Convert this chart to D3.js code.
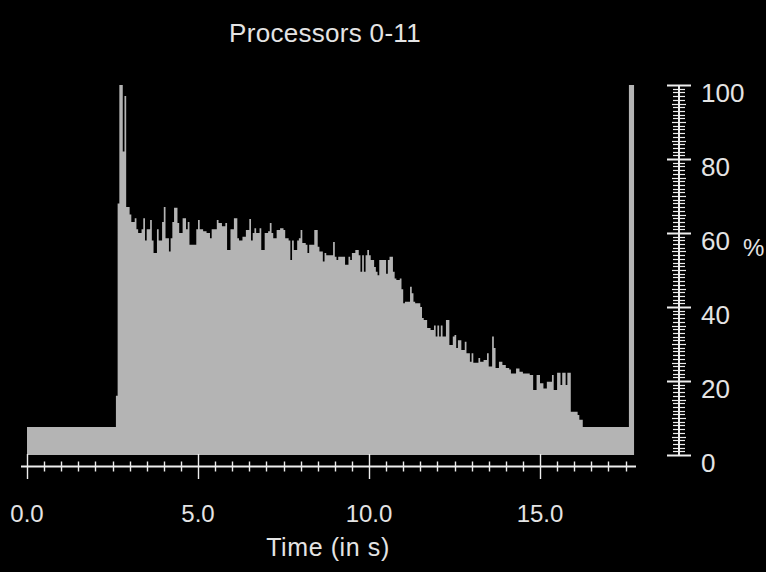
<!DOCTYPE html>
<html>
<head>
<meta charset="utf-8">
<script src="https://cdn.jsdelivr.net/npm/d3@7"></script>
<style>
  html, body { margin: 0; padding: 0; background: #000; }
  svg { display: block; }
  text { font-family: "Liberation Sans", Arial, sans-serif; fill: #e4e4e4; }
</style>
</head>
<body>
<section id="loadChart"></section>
<script>
// processor load (%), sampled every 0.05 s from 2.6 s while busy
var idleLoad = 7.6;
var busyStart = 2.6;
var sampleStep = 0.05;
var busyLoad = [
  16, 68, 100, 100, 82, 97, 67, 67, 65, 63,
  63, 64, 61, 60, 60, 61, 64, 58, 61, 61,
  63.5, 58, 54.6, 54.6, 61, 58, 58, 63, 67, 58.6,
  58.6, 55, 58.6, 63, 66.8, 66.8, 62.7, 60, 60, 64,
  64, 61, 63, 56.8, 56.8, 56.8, 56.8, 61, 63.5, 61,
  61, 60.5, 60.5, 60, 60, 58.6, 61, 61, 61, 63.5,
  62.7, 62.7, 61.8, 61.8, 62.7, 55.4, 55.4, 61, 61, 64,
  64, 58.6, 58, 58, 59, 59, 60.8, 60.8, 63.8, 58,
  60, 61.3, 60, 60, 61.3, 55.4, 55.4, 60, 60, 60.5,
  62.7, 60, 58.6, 58.6, 60.8, 60.8, 61.3, 61.3, 60.8, 58.6,
  58.6, 58, 52.7, 58, 55.4, 55.4, 58, 58.6, 60.8, 57.3,
  57.3, 56.8, 54.6, 56.8, 56.8, 56.8, 60.8, 60.8, 56.3, 55,
  55, 52.3, 54.6, 54, 54, 54, 54, 57.6, 53.6, 52.7,
  53.6, 53.6, 53.6, 53.6, 51.4, 51.4, 53.6, 52.7, 54.6, 54.6,
  55.4, 55.4, 54, 49.5, 54, 49.5, 54, 55.4, 54, 52.7,
  52.7, 50.8, 49.5, 48.6, 52.7, 52.7, 52.7, 52.7, 49, 52.7,
  53.6, 53.6, 49.5, 47.7, 47.3, 47.3, 47.7, 44.8, 41, 41.4,
  41.4, 41.4, 45.5, 43.7, 41.4, 41, 41, 41, 40, 37,
  36.5, 36.5, 34.3, 34.3, 33.8, 33.8, 35, 32, 35, 32,
  35, 32, 32, 36.5, 36.5, 29.7, 29.7, 32, 32.4, 28.9,
  31, 31, 28.4, 28.4, 30.6, 27.5, 27.5, 25.2, 27.5, 24.9,
  24.9, 24.9, 26.2, 25.2, 25.2, 25.7, 25.7, 27.5, 23.9, 23.9,
  32, 28.9, 23.5, 23.5, 25.2, 25.2, 24.3, 24.3, 23.5, 23.5,
  23.1, 22, 22, 22, 23.4, 23.4, 22.5, 22.5, 22, 22,
  22, 22, 21.6, 21.6, 17.6, 17.6, 21.6, 21.6, 19.4, 19.4,
  18, 18, 19.8, 19.8, 19.8, 21.6, 17.6, 17.6, 22.2, 22.2,
  18.9, 22.2, 22.2, 18.9, 22.2, 22.2, 11.7, 11.7, 11.7, 11.7,
  10.8, 9.5, 9.5
];
var finalSpike = [17.6, 17.75];   // start, end of last burst (s)
var finalSpikeLoad = 100;
var endTime = 17.75;

var xMajorTicks = [0, 5, 10, 15];
var xTickLabels = ["0.0", "5.0", "10.0", "15.0"];
var yMajorTicks = [0, 20, 40, 60, 80, 100];

var width = 766, height = 572;

var svg = d3.select("section#loadChart")
    .append("svg")
    .attr("width", width)
    .attr("height", height);

svg.append("rect")
    .attr("width", width)
    .attr("height", height)
    .attr("fill", "#000");

var x = d3.scaleLinear()
    .domain([0, endTime])
    .range([27, 27 + endTime * 34.2]);

var y = d3.scaleLinear()
    .domain([0, 100])
    .range([455, 85]);

// build the step series
var points = [[0, idleLoad]];
busyLoad.forEach(function(v, i) {
    points.push([busyStart + i * sampleStep, v]);
});
points.push([busyStart + busyLoad.length * sampleStep, idleLoad]);
points.push([finalSpike[0], finalSpikeLoad]);
points.push([finalSpike[1], finalSpikeLoad]);

var area = d3.area()
    .curve(d3.curveStepAfter)
    .x(function(d) { return x(d[0]); })
    .y0(y(0))
    .y1(function(d) { return y(d[1]); });

svg.append("path")
    .datum(points)
    .attr("d", area)
    .attr("fill", "#b4b4b4");

// bottom time axis
var axisY = 466.5;
var xAxis = svg.append("g").attr("class", "x-axis");

xAxis.append("line")
    .attr("x1", 21).attr("x2", 636)
    .attr("y1", axisY).attr("y2", axisY)
    .attr("stroke", "#eeeeee")
    .attr("stroke-width", 2);

xAxis.selectAll(".minor")
    .data(d3.range(0, 17.51, 0.5))
    .enter()
    .append("line")
    .attr("x1", function(d) { return Math.round(x(d)) + 0.5; })
    .attr("x2", function(d) { return Math.round(x(d)) + 0.5; })
    .attr("y1", function(d) { return xMajorTicks.indexOf(d) >= 0 ? 454 : 461.5; })
    .attr("y2", function(d) { return xMajorTicks.indexOf(d) >= 0 ? 479 : 471.5; })
    .attr("stroke", "#eeeeee")
    .attr("stroke-width", 1.4);

xAxis.selectAll(".xlabel")
    .data(xMajorTicks)
    .enter()
    .append("text")
    .attr("x", function(d) { return x(d); })
    .attr("y", 522)
    .attr("text-anchor", "middle")
    .attr("font-size", 24)
    .text(function(d, i) { return xTickLabels[i]; });

svg.append("text")
    .attr("x", 328)
    .attr("y", 556)
    .attr("text-anchor", "middle")
    .attr("font-size", 25)
    .attr("letter-spacing", 0.6)
    .text("Time (in s)");

// right percentage axis
var axisX = 679;
var yAxis = svg.append("g").attr("class", "y-axis");

yAxis.append("line")
    .attr("x1", axisX).attr("x2", axisX)
    .attr("y1", y(100)).attr("y2", y(0))
    .attr("stroke", "#eeeeee")
    .attr("stroke-width", 2);

yAxis.selectAll(".tick")
    .data(d3.range(0, 101, 1))
    .enter()
    .append("line")
    .attr("x1", function(d) { return d % 20 === 0 ? axisX - 12 : axisX - (d % 5 === 0 ? 7 : 6); })
    .attr("x2", function(d) { return d % 20 === 0 ? axisX + 12 : axisX + (d % 5 === 0 ? 7 : 6); })
    .attr("y1", function(d) { return Math.round(y(d)) + 0.5; })
    .attr("y2", function(d) { return Math.round(y(d)) + 0.5; })
    .attr("stroke", "#eeeeee")
    .attr("stroke-width", function(d) { return d % 20 === 0 ? 2 : 1.2; });

yAxis.selectAll(".ylabel")
    .data(yMajorTicks)
    .enter()
    .append("text")
    .attr("x", 701)
    .attr("y", function(d) { return y(d) + 17; })
    .attr("font-size", 26)
    .text(function(d) { return d; });

svg.append("text")
    .attr("x", 743)
    .attr("y", 256)
    .attr("font-size", 24)
    .text("%");

// title
svg.append("text")
    .attr("x", 325)
    .attr("y", 42)
    .attr("text-anchor", "middle")
    .attr("font-size", 26)
    .attr("letter-spacing", 0.3)
    .text("Processors 0-11");
</script>
</body>
</html>
